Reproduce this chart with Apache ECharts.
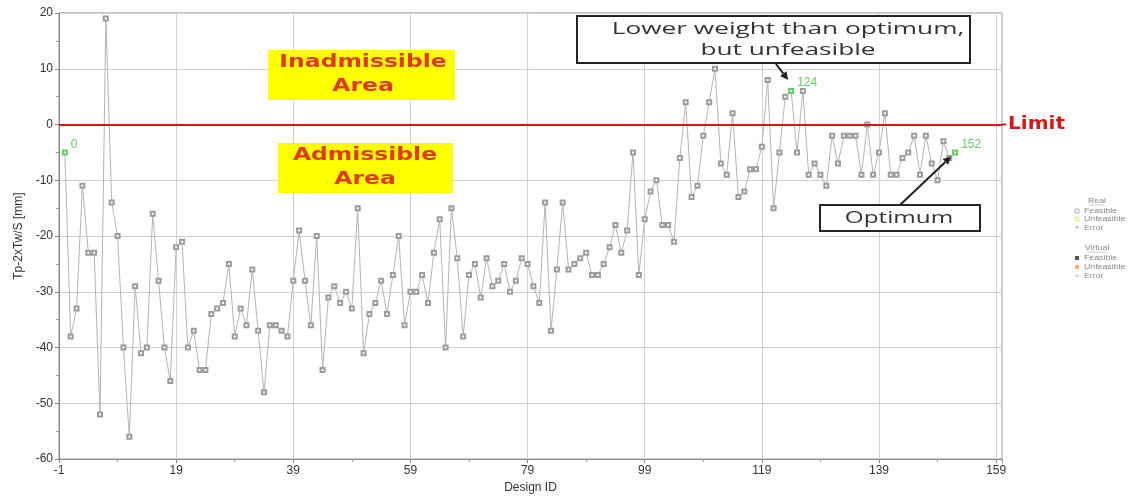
<!DOCTYPE html>
<html>
<head>
<meta charset="utf-8">
<script src="https://cdn.jsdelivr.net/npm/echarts@6/dist/echarts.min.js"></script>
<style>
  html, body { margin: 0; padding: 0; background: #fff; }
  #chart { width: 1134px; height: 499px; }
</style>
</head>
<body>
<div id="chart"></div>
<script>
// Constraint value Tp-2xTw/S per design, indexed by Design ID (0..152)
const designValues = [
  -5, -38, -33, -11, -23, -23, -52, 19, -14, -20,
  -40, -56, -29, -41, -40, -16, -28, -40, -46, -22,
  -21, -40, -37, -44, -44, -34, -33, -32, -25, -38,
  -33, -36, -26, -37, -48, -36, -36, -37, -38, -28,
  -19, -28, -36, -20, -44, -31, -29, -32, -30, -33,
  -15, -41, -34, -32, -28, -34, -27, -20, -36, -30,
  -30, -27, -32, -23, -17, -40, -15, -24, -38, -27,
  -25, -31, -24, -29, -28, -25, -30, -28, -24, -25,
  -29, -32, -14, -37, -26, -14, -26, -25, -24, -23,
  -27, -27, -25, -22, -18, -23, -19, -5, -27, -17,
  -12, -10, -18, -18, -21, -6, 4, -13, -11, -2,
  4, 10, -7, -9, 2, -13, -12, -8, -8, -4,
  8, -15, -5, 5, 6, -5, 6, -9, -7, -9,
  -11, -2, -7, -2, -2, -2, -9, 0, -9, -5,
  2, -9, -9, -6, -5, -2, -9, -2, -7, -10,
  -3, -6, -5
];

// Designs called out with their ID
const highlightedIds = [0, 124, 152];

// Axis ranges and tick spacing
const xRange = [-1, 160];
const xStep = 20;
const yRange = [-60, 20];
const yStep = 10;
const limitValue = 0;

const lineGrey = '#b4b4b4';
const markerGrey = '#9c9c9c';
const green = '#5fcf5f';

const seriesData = designValues.map((v, i) => {
  const item = { value: [i, v] };
  if (highlightedIds.includes(i)) {
    item.itemStyle = { color: green };
    item.label = {
      show: true, position: 'right', distance: 3, offset: [0, -8],
      formatter: String(i), color: green, fontSize: 12,
      fontFamily: 'Liberation Sans, Arial, sans-serif'
    };
  }
  return item;
});

const chart = echarts.init(document.getElementById('chart'), null, { renderer: 'canvas' });

const axisText = { color: '#333', fontSize: 12, fontFamily: 'Liberation Sans, Arial, sans-serif' };

chart.setOption({
  animation: false,
  backgroundColor: '#fff',
  grid: {
    left: 59, right: 132, top: 13, bottom: 36,
    show: true, borderColor: '#8a8a8a', borderWidth: 1
  },
  xAxis: {
    type: 'value', min: xRange[0], max: xRange[1], interval: xStep,
    name: 'Design ID', nameLocation: 'middle', nameGap: 21,
    nameTextStyle: Object.assign({}, axisText),
    axisLine: { onZero: false, lineStyle: { color: '#888' } },
    axisTick: { show: true, length: 4, lineStyle: { color: '#888' } },
    minorTick: { show: true, splitNumber: 2, length: 3, lineStyle: { color: '#999' } },
    axisLabel: Object.assign({ margin: 6, formatter: v => ((v + 1) % xStep === 0 ? String(v) : '') }, axisText),
    splitLine: { show: true, lineStyle: { color: '#d2d2d2' } }
  },
  yAxis: {
    type: 'value', min: yRange[0], max: yRange[1], interval: yStep,
    name: 'Tp-2xTw/S [mm]', nameLocation: 'middle', nameGap: 33,
    nameTextStyle: Object.assign({}, axisText),
    axisLine: { show: true, onZero: false, lineStyle: { color: '#888' } },
    axisTick: { show: true, length: 4, lineStyle: { color: '#888' } },
    minorTick: { show: true, splitNumber: 2, length: 3, lineStyle: { color: '#999' } },
    axisLabel: Object.assign({ margin: 6 }, axisText),
    splitLine: { show: true, lineStyle: { color: '#d2d2d2' } }
  },
  series: [{
    type: 'line',
    data: seriesData,
    symbol: 'emptyRect',
    symbolSize: 4,
    showAllSymbol: true,
    lineStyle: { color: lineGrey, width: 1 },
    itemStyle: { color: markerGrey, borderWidth: 1 },
    markLine: {
      silent: true, symbol: 'none',
      lineStyle: { color: '#e01010', width: 2, type: 'solid' },
      label: { show: false },
      data: [{ yAxis: limitValue }]
    },
    z: 3
  }]
});

// Callout boxes, arrows and the marker key
function arrow(from, to, color) {
  const dx = to[0] - from[0], dy = to[1] - from[1];
  const len = Math.hypot(dx, dy);
  const ux = dx / len, uy = dy / len;
  const head = 8, half = 4;
  const bx = to[0] - ux * head, by = to[1] - uy * head;
  return [
    { type: 'line', shape: { x1: from[0], y1: from[1], x2: bx, y2: by }, style: { stroke: color, lineWidth: 2 }, z: 20 },
    { type: 'polygon', shape: { points: [to, [bx - uy * half, by + ux * half], [bx + uy * half, by - ux * half]] }, style: { fill: color }, z: 20 }
  ];
}

const p124 = chart.convertToPixel({ gridIndex: 0 }, [124, designValues[124]]);
const p152 = chart.convertToPixel({ gridIndex: 0 }, [152, designValues[152]]);
const limitLeft = chart.convertToPixel({ gridIndex: 0 }, [xRange[1], limitValue]);

const areaText = {
  fill: '#e2381c', fontWeight: 'bold', fontSize: 17, lineHeight: 24,
  fontFamily: 'DejaVu Sans, sans-serif', align: 'center', verticalAlign: 'middle'
};
const noteText = {
  fill: '#333', fontSize: 16, lineHeight: 21,
  fontFamily: 'Open Sans, sans-serif', align: 'center', verticalAlign: 'middle'
};
const keyText = { fill: '#888', fontSize: 7, fontFamily: 'Liberation Sans, sans-serif', verticalAlign: 'middle' };

const graphics = [
  { type: 'rect', shape: { x: 268, y: 50, width: 187, height: 50 }, style: { fill: '#ffff00' }, z: 10 },
  { type: 'text', x: 363, y: 75, scaleX: 1.38, style: Object.assign({ text: 'Inadmissible\nArea' }, areaText), z: 11 },
  { type: 'rect', shape: { x: 278, y: 143, width: 175, height: 50 }, style: { fill: '#ffff00' }, z: 10 },
  { type: 'text', x: 365, y: 168, scaleX: 1.38, style: Object.assign({ text: 'Admissible\nArea' }, areaText), z: 11 },

  { type: 'rect', shape: { x: 577, y: 16, width: 393, height: 47 }, style: { fill: '#fff', stroke: '#222', lineWidth: 2 }, z: 10 },
  { type: 'text', x: 788, y: 40, scaleX: 1.64, style: Object.assign({ text: 'Lower weight than optimum,\nbut unfeasible' }, noteText), z: 11 },
  { type: 'rect', shape: { x: 820, y: 205, width: 160, height: 26 }, style: { fill: '#fff', stroke: '#222', lineWidth: 2 }, z: 10 },
  { type: 'text', x: 899, y: 218, scaleX: 1.52, style: Object.assign({ text: 'Optimum' }, noteText), z: 11 },

  // limit label beside the right edge of the plot
  { type: 'line', shape: { x1: limitLeft[0], y1: limitLeft[1], x2: limitLeft[0] + 4, y2: limitLeft[1] }, style: { stroke: '#e01010', lineWidth: 2 }, z: 12 },
  { type: 'text', x: limitLeft[0] + 6, y: limitLeft[1], scaleX: 1.18,
    style: { text: 'Limit', fill: '#d81818', fontWeight: 'bold', fontSize: 17, fontFamily: 'DejaVu Sans, sans-serif', verticalAlign: 'middle' }, z: 12 }
]
  .concat(arrow([776, 64], [p124[0] - 3, p124[1] - 11], '#222'))
  .concat(arrow([900, 205], [p152[0] - 4, p152[1] + 4], '#222'));

// Marker key: real and virtual designs
const key = [
  { type: 'text', x: 1097, y: 201, scaleX: 1.25, style: Object.assign({ text: 'Real', align: 'center' }, keyText) },
  { type: 'line', shape: { x1: 1090, y1: 205, x2: 1104, y2: 205 }, style: { stroke: '#aaa', lineWidth: 0.6 } },
  { type: 'rect', shape: { x: 1075, y: 209, width: 4, height: 4 }, style: { fill: '#fff', stroke: '#999', lineWidth: 0.8 } },
  { type: 'text', x: 1084, y: 211, scaleX: 1.25, style: Object.assign({ text: 'Feasible' }, keyText) },
  { type: 'rect', shape: { x: 1075, y: 217, width: 4, height: 4 }, style: { fill: '#f6f6c0', stroke: '#e6e69a', lineWidth: 0.8 } },
  { type: 'text', x: 1084, y: 219, scaleX: 1.25, style: Object.assign({ text: 'Unfeasible' }, keyText) },
  { type: 'text', x: 1077, y: 228, style: { text: '+', fill: '#7aa07a', fontSize: 8, align: 'center', verticalAlign: 'middle' } },
  { type: 'text', x: 1084, y: 228, scaleX: 1.25, style: Object.assign({ text: 'Error' }, keyText) },

  { type: 'text', x: 1097, y: 248, scaleX: 1.25, style: Object.assign({ text: 'Virtual', align: 'center' }, keyText) },
  { type: 'line', shape: { x1: 1087, y1: 252, x2: 1107, y2: 252 }, style: { stroke: '#aaa', lineWidth: 0.6 } },
  { type: 'rect', shape: { x: 1075, y: 256, width: 4, height: 4 }, style: { fill: '#555' } },
  { type: 'text', x: 1084, y: 258, scaleX: 1.25, style: Object.assign({ text: 'Feasible' }, keyText) },
  { type: 'rect', shape: { x: 1075, y: 265, width: 4, height: 4 }, style: { fill: '#f6b27a' } },
  { type: 'text', x: 1084, y: 267, scaleX: 1.25, style: Object.assign({ text: 'Unfeasible' }, keyText) },
  { type: 'text', x: 1077, y: 276, style: { text: '×', fill: '#f0a0a0', fontSize: 8, align: 'center', verticalAlign: 'middle' } },
  { type: 'text', x: 1084, y: 276, scaleX: 1.25, style: Object.assign({ text: 'Error' }, keyText) }
];

chart.setOption({ graphic: graphics.concat(key) });
</script>
</body>
</html>
